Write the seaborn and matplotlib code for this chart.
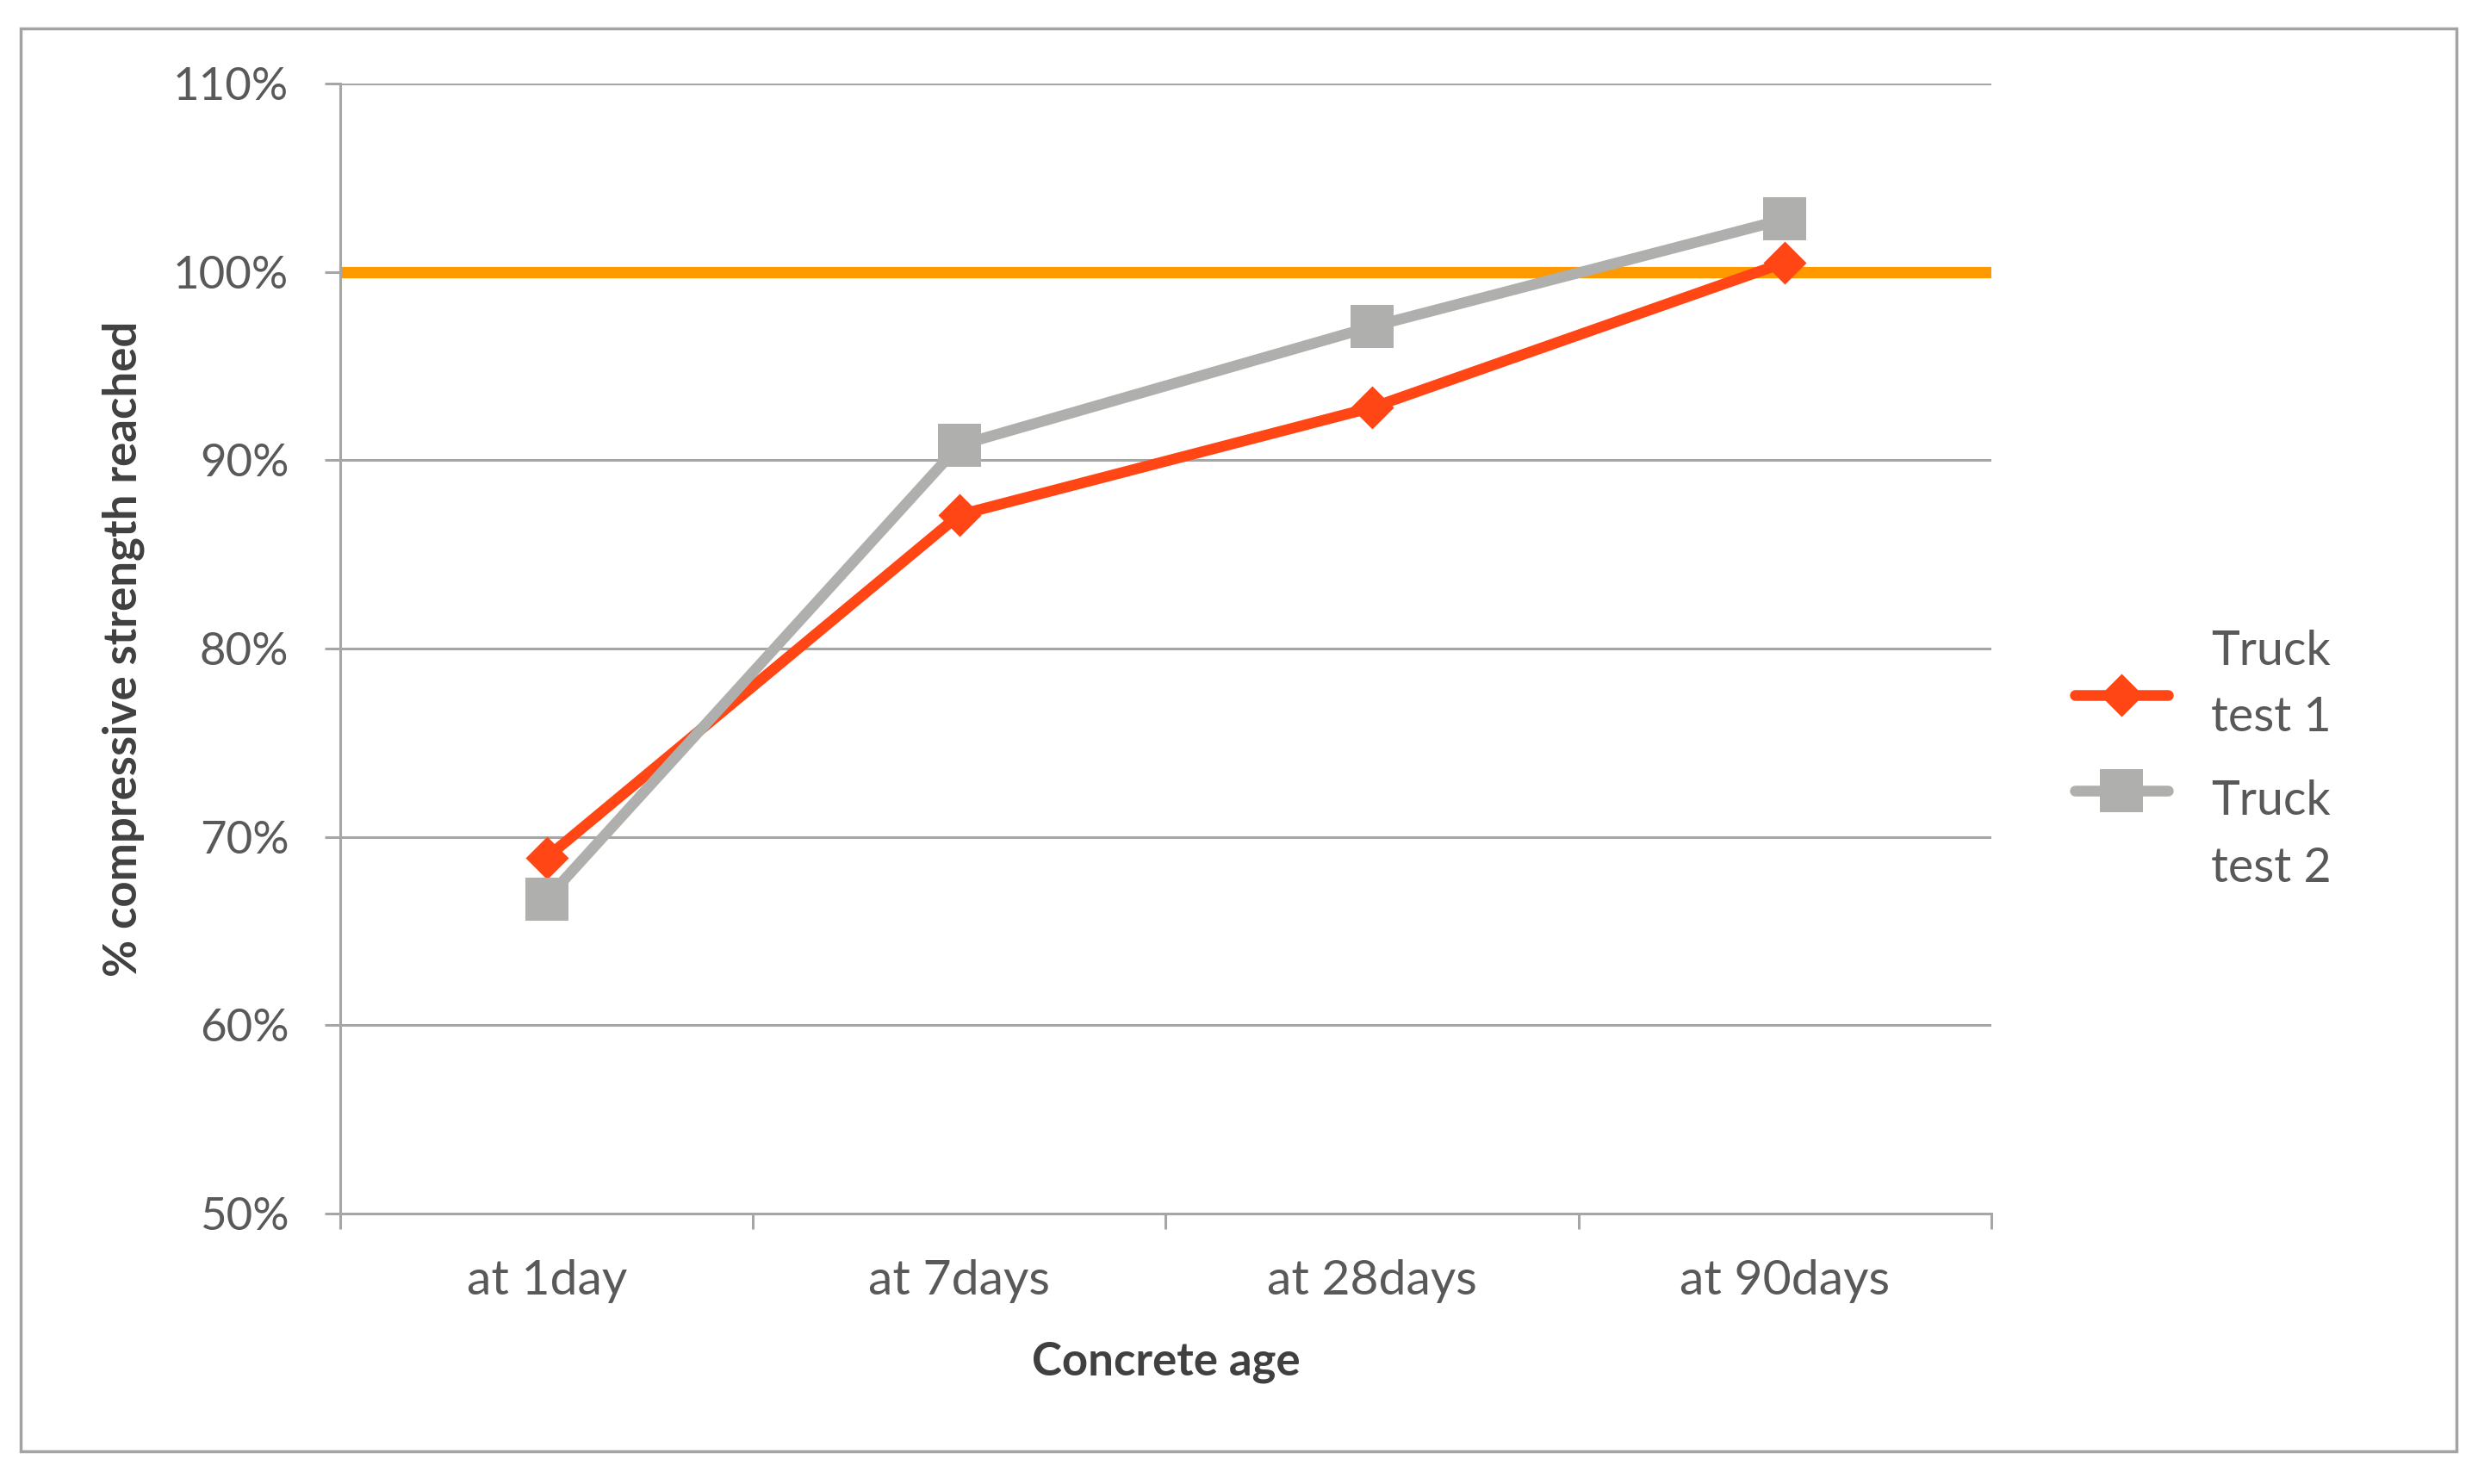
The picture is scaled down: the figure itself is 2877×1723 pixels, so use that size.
import pandas as pd
import numpy as np
import matplotlib
matplotlib.use('Agg')
import matplotlib.pyplot as plt
import seaborn as sns
from matplotlib.ticker import FuncFormatter, FixedLocator
from matplotlib.patches import Rectangle

# Data
ages = ['at 1day', 'at 7days', 'at 28days', 'at 90days']
truck_test_1 = [68.9, 87.1, 92.8, 100.5]
truck_test_2 = [66.7, 90.8, 97.1, 102.8]
series_names = ['Truck\ntest 1', 'Truck\ntest 2']
target = 100
y_ticks = [50, 60, 70, 80, 90, 100, 110]

df = pd.DataFrame({
    'age': ages * 2,
    'strength': truck_test_1 + truck_test_2,
    'series': [series_names[0]] * 4 + [series_names[1]] * 4,
})

sns.set_style('white')
plt.rcParams['font.family'] = ['Lato', 'DejaVu Sans']

text_col = '#595959'
title_col = '#404040'
grid_col = '#a6a6a6'
red = '#ff4614'
grey = '#afb0ad'
orange = '#ff9900'

diamond = [(0, 1), (1, 0), (0, -1), (-1, 0), (0, 1)]
square = [(-1, -1), (1, -1), (1, 1), (-1, 1), (-1, -1)]

fig = plt.figure(figsize=(28.77, 17.23), dpi=100)
ax = fig.add_axes([0.1373, 0.1822, 0.6663, 0.7615])

# Excel-like frame around the chart
fig.patches.append(Rectangle((24 / 2877, 1 - 1685 / 1723), 2828 / 2877, 1652 / 1723,
                             transform=fig.transFigure, fill=False,
                             edgecolor='#a3a3a3', linewidth=2.5))

for yt in y_ticks[1:]:
    ax.axhline(yt, color=grid_col, linewidth=2.2, zorder=0)

ax.axhline(target, color=orange, linewidth=9.5, zorder=1)

sns.lineplot(data=df, x='age', y='strength', hue='series', style='series',
             palette={series_names[0]: red, series_names[1]: grey},
             markers={series_names[0]: diamond, series_names[1]: square},
             dashes=False, linewidth=9, markersize=36, markeredgewidth=0,
             sort=False, ax=ax, zorder=3)

ax.set_xlim(-0.5, 3.5)
ax.set_ylim(50, 110)
ax.yaxis.set_major_locator(FixedLocator(y_ticks))
ax.yaxis.set_major_formatter(FuncFormatter(lambda v, p: f'{v:.0f}%'))
ax.xaxis.set_minor_locator(FixedLocator([-0.5, 0.5, 1.5, 2.5, 3.5]))

for s in ['top', 'right']:
    ax.spines[s].set_visible(False)
for s in ['left', 'bottom']:
    ax.spines[s].set_color(grid_col)
    ax.spines[s].set_linewidth(2.2)

ax.tick_params(axis='y', which='major', length=13, width=2.2, color=grid_col,
               pad=30, labelsize=38, labelcolor=text_col, left=True, direction='out')
ax.tick_params(axis='x', which='major', length=0, pad=38, labelsize=41,
               labelcolor=text_col)
ax.tick_params(axis='x', which='minor', length=13, width=2.2, color=grid_col,
               bottom=True, direction='out')

ax.set_xlabel('Concrete age', fontsize=38, fontweight='bold', color=title_col,
              labelpad=32)
ax.set_ylabel('% compressive strength reached', fontsize=38, fontweight='bold',
              color=title_col, labelpad=24)

handles, labels = ax.get_legend_handles_labels()
ax.get_legend().remove()
leg = fig.legend(handles, labels, loc='center left', bbox_to_anchor=(0.8372, 0.488),
                 frameon=False, fontsize=40, labelcolor=text_col, handlelength=1.95,
                 handletextpad=0.9, labelspacing=0.82, borderpad=0, borderaxespad=0)
for t in leg.get_texts():
    t.set_linespacing(1.65)

# Excel draws the legend keys closer together than the wrapped labels
for line, dy in zip(leg.get_lines(), [-8, 38]):
    line.set_ydata(np.asarray(line.get_ydata()) + dy)

fig.savefig('out.png', dpi=100, facecolor='white')
